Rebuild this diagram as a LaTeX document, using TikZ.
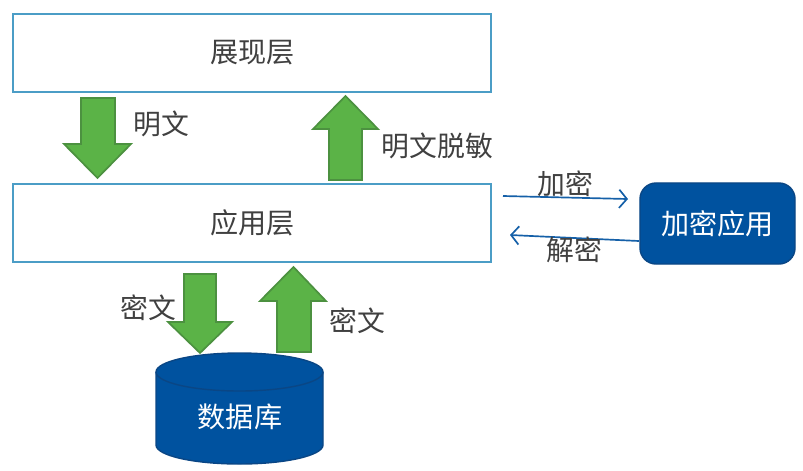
\documentclass[tikz,border=0pt]{standalone}
\usepackage{fontspec}
\setmainfont{Noto Sans CJK SC}
\usetikzlibrary{arrows.meta}
\definecolor{layerline}{HTML}{4B9DC6}
\definecolor{arrowgreen}{HTML}{5BB347}
\definecolor{arrowline}{HTML}{4C9140}
\definecolor{appblue}{HTML}{00529F}
\definecolor{appline}{HTML}{0A4685}
\definecolor{flowblue}{HTML}{1560A8}
\definecolor{labelgray}{HTML}{404040}
\tikzset{
  layerbox/.style={draw=layerline, line width=1.4pt, minimum width=11.95cm, minimum height=1.95cm, text=labelgray, font=\fontsize{20}{24}\selectfont},
  bluebox/.style={draw=appline, fill=appblue, line width=1pt, text=white, font=\fontsize{20}{24}\selectfont},
  greenarrow/.style={draw=arrowline, fill=arrowgreen, line width=1.2pt},
  flowarrow/.style={draw=flowblue, line width=1.2pt, -{Straight Barb[length=5.5pt,width=13pt]}},
  flowlabel/.style={text=labelgray, inner sep=0pt, font=\fontsize{19.8}{23}\selectfont}
}
\begin{document}
\begin{tikzpicture}[x=0.025cm,y=-0.025cm]
        \useasboundingbox (0,0) rectangle (803,470);

        % layers
        \node[layerbox] (showlayer) at (252.2,53) {展现层};
        \node[layerbox] (applayer) at (252.2,223) {应用层};

        % plain text arrows
        \draw[greenarrow] (81,98) -- (115,98) -- (115,144) -- (131,144) -- (97.5,178) -- (64,144) -- (81,144) -- cycle;
        \node[flowlabel] (plainlabel) at (161.5,124) {明文};
        \draw[greenarrow] (329,180) -- (362,180) -- (362,129) -- (378,129) -- (345.5,96) -- (313,129) -- (329,129) -- cycle;
        \node[flowlabel] (masklabel) at (437.5,146) {明文脱敏};

        % database
        \draw[draw=appline, fill=appblue, line width=1pt] (156,372) arc[start angle=180, end angle=360, x radius=83.5, y radius=19] -- (323,445) arc[start angle=0, end angle=180, x radius=83.5, y radius=19] -- cycle;
        \draw[appline, line width=1pt] (156,372) arc[start angle=180, end angle=0, x radius=83.5, y radius=19];
        \node[text=white, font=\fontsize{20}{24}\selectfont] (database) at (240,417) {数据库};

        % cipher text arrows
        \draw[greenarrow] (184,274) -- (216,274) -- (216,322) -- (232,322) -- (200,353) -- (168,322) -- (184,322) -- cycle;
        \node[flowlabel] (cipherleft) at (148,308) {密文};
        \draw[greenarrow] (277,352) -- (311,352) -- (311,301) -- (326,301) -- (293.5,267) -- (260,301) -- (277,301) -- cycle;
        \node[flowlabel] (cipherright) at (357.5,321) {密文};

        % encryption app
        \node[bluebox, rounded corners=0.4cm, minimum width=3.875cm, minimum height=2.025cm] (cryptapp) at (717.5,223.5) {加密应用};
        \coordinate (encstart) at (503,196);
        \coordinate (encend) at (628,199);
        \coordinate (decstart) at (639,241);
        \coordinate (decend) at (510,235);
        \draw[flowarrow] (encstart) -- (encend);
        \draw[flowarrow] (decstart) -- (decend);
        \node[flowlabel] (enclabel) at (565.5,184) {加密};
        \node[flowlabel] (declabel) at (574,250) {解密};
      \end{tikzpicture}
\end{document}
